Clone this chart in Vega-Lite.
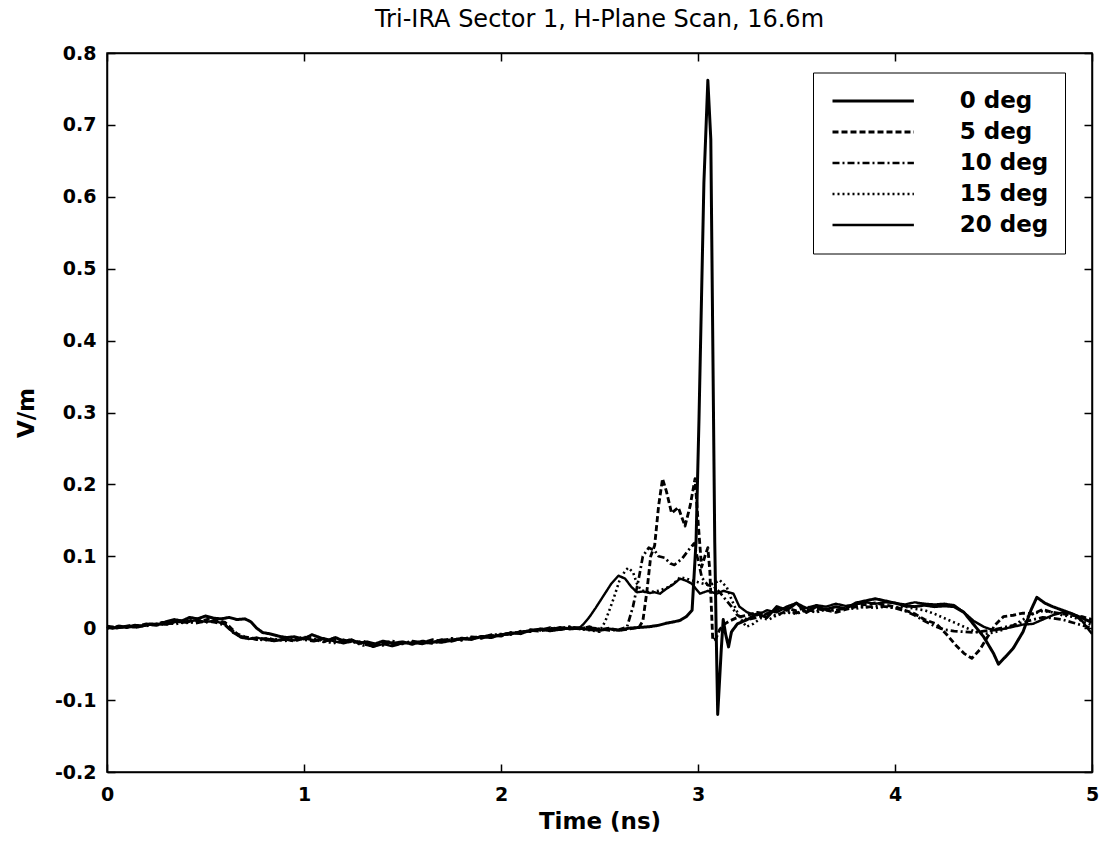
{
"$schema": "https://vega.github.io/schema/vega-lite/v6.json",
"width": 985, "height": 719,
"autosize": {"type": "none"},
"padding": {"left": 107, "top": 53, "right": 10, "bottom": 80},
"background": "white",
"title": {"text": "Tri-IRA Sector 1, H-Plane Scan, 16.6m", "font": "DejaVu Sans", "fontSize": 24, "fontWeight": "normal", "color": "black", "offset": 12, "anchor": "middle"},
"config": {"view": {"stroke": "black", "strokeWidth": 1.5}},
"datasets": {"d": [
{"s":"0 deg","t":0.00,"v":0.002},{"s":"0 deg","t":0.03,"v":0.000},{"s":"0 deg","t":0.06,"v":0.003},{"s":"0 deg","t":0.10,"v":0.001},{"s":"0 deg","t":0.14,"v":0.004},{"s":"0 deg","t":0.18,"v":0.003},{"s":"0 deg","t":0.22,"v":0.006},{"s":"0 deg","t":0.26,"v":0.005},{"s":"0 deg","t":0.30,"v":0.009},{"s":"0 deg","t":0.34,"v":0.012},{"s":"0 deg","t":0.38,"v":0.010},{"s":"0 deg","t":0.42,"v":0.015},{"s":"0 deg","t":0.46,"v":0.013},{"s":"0 deg","t":0.50,"v":0.017},{"s":"0 deg","t":0.54,"v":0.014},{"s":"0 deg","t":0.58,"v":0.013},{"s":"0 deg","t":0.62,"v":0.015},{"s":"0 deg","t":0.66,"v":0.012},{"s":"0 deg","t":0.70,"v":0.013},{"s":"0 deg","t":0.73,"v":0.009},{"s":"0 deg","t":0.76,"v":0.000},{"s":"0 deg","t":0.79,"v":-0.006},{"s":"0 deg","t":0.83,"v":-0.008},{"s":"0 deg","t":0.87,"v":-0.011},{"s":"0 deg","t":0.91,"v":-0.013},{"s":"0 deg","t":0.95,"v":-0.012},{"s":"0 deg","t":1.00,"v":-0.015},{"s":"0 deg","t":1.04,"v":-0.009},{"s":"0 deg","t":1.08,"v":-0.013},{"s":"0 deg","t":1.12,"v":-0.017},{"s":"0 deg","t":1.16,"v":-0.013},{"s":"0 deg","t":1.20,"v":-0.018},{"s":"0 deg","t":1.24,"v":-0.016},{"s":"0 deg","t":1.28,"v":-0.021},{"s":"0 deg","t":1.32,"v":-0.019},{"s":"0 deg","t":1.36,"v":-0.022},{"s":"0 deg","t":1.40,"v":-0.018},{"s":"0 deg","t":1.45,"v":-0.021},{"s":"0 deg","t":1.50,"v":-0.019},{"s":"0 deg","t":1.55,"v":-0.022},{"s":"0 deg","t":1.60,"v":-0.018},{"s":"0 deg","t":1.65,"v":-0.020},{"s":"0 deg","t":1.70,"v":-0.016},{"s":"0 deg","t":1.75,"v":-0.018},{"s":"0 deg","t":1.80,"v":-0.014},{"s":"0 deg","t":1.85,"v":-0.015},{"s":"0 deg","t":1.90,"v":-0.012},{"s":"0 deg","t":1.95,"v":-0.013},{"s":"0 deg","t":2.00,"v":-0.009},{"s":"0 deg","t":2.05,"v":-0.008},{"s":"0 deg","t":2.10,"v":-0.005},{"s":"0 deg","t":2.15,"v":-0.004},{"s":"0 deg","t":2.20,"v":-0.001},{"s":"0 deg","t":2.25,"v":-0.002},{"s":"0 deg","t":2.30,"v":0.001},{"s":"0 deg","t":2.35,"v":-0.001},{"s":"0 deg","t":2.40,"v":0.000},{"s":"0 deg","t":2.45,"v":-0.002},{"s":"0 deg","t":2.50,"v":-0.003},{"s":"0 deg","t":2.55,"v":-0.001},{"s":"0 deg","t":2.60,"v":-0.003},{"s":"0 deg","t":2.65,"v":0.000},{"s":"0 deg","t":2.70,"v":0.001},{"s":"0 deg","t":2.75,"v":0.002},{"s":"0 deg","t":2.80,"v":0.004},{"s":"0 deg","t":2.84,"v":0.007},{"s":"0 deg","t":2.88,"v":0.009},{"s":"0 deg","t":2.91,"v":0.011},{"s":"0 deg","t":2.94,"v":0.016},{"s":"0 deg","t":2.97,"v":0.025},{"s":"0 deg","t":2.99,"v":0.12},{"s":"0 deg","t":3.005,"v":0.29},{"s":"0 deg","t":3.03,"v":0.62},{"s":"0 deg","t":3.05,"v":0.762},{"s":"0 deg","t":3.065,"v":0.68},{"s":"0 deg","t":3.075,"v":0.40},{"s":"0 deg","t":3.085,"v":0.12},{"s":"0 deg","t":3.092,"v":0.0},{"s":"0 deg","t":3.10,"v":-0.12},{"s":"0 deg","t":3.11,"v":-0.07},{"s":"0 deg","t":3.118,"v":-0.03},{"s":"0 deg","t":3.128,"v":0.012},{"s":"0 deg","t":3.14,"v":-0.008},{"s":"0 deg","t":3.155,"v":-0.026},{"s":"0 deg","t":3.17,"v":-0.005},{"s":"0 deg","t":3.20,"v":0.006},{"s":"0 deg","t":3.25,"v":0.012},{"s":"0 deg","t":3.30,"v":0.020},{"s":"0 deg","t":3.35,"v":0.015},{"s":"0 deg","t":3.40,"v":0.030},{"s":"0 deg","t":3.45,"v":0.025},{"s":"0 deg","t":3.50,"v":0.035},{"s":"0 deg","t":3.55,"v":0.022},{"s":"0 deg","t":3.60,"v":0.030},{"s":"0 deg","t":3.65,"v":0.026},{"s":"0 deg","t":3.70,"v":0.030},{"s":"0 deg","t":3.75,"v":0.027},{"s":"0 deg","t":3.80,"v":0.035},{"s":"0 deg","t":3.85,"v":0.038},{"s":"0 deg","t":3.90,"v":0.041},{"s":"0 deg","t":3.95,"v":0.038},{"s":"0 deg","t":4.00,"v":0.035},{"s":"0 deg","t":4.05,"v":0.031},{"s":"0 deg","t":4.10,"v":0.030},{"s":"0 deg","t":4.15,"v":0.032},{"s":"0 deg","t":4.20,"v":0.030},{"s":"0 deg","t":4.25,"v":0.031},{"s":"0 deg","t":4.30,"v":0.030},{"s":"0 deg","t":4.35,"v":0.022},{"s":"0 deg","t":4.40,"v":0.005},{"s":"0 deg","t":4.45,"v":-0.012},{"s":"0 deg","t":4.50,"v":-0.035},{"s":"0 deg","t":4.525,"v":-0.050},{"s":"0 deg","t":4.56,"v":-0.040},{"s":"0 deg","t":4.60,"v":-0.028},{"s":"0 deg","t":4.65,"v":-0.005},{"s":"0 deg","t":4.69,"v":0.025},{"s":"0 deg","t":4.72,"v":0.043},{"s":"0 deg","t":4.76,"v":0.035},{"s":"0 deg","t":4.80,"v":0.030},{"s":"0 deg","t":4.85,"v":0.025},{"s":"0 deg","t":4.90,"v":0.020},{"s":"0 deg","t":4.95,"v":0.014},{"s":"0 deg","t":5.00,"v":0.008},

{"s":"5 deg","t":0.00,"v":0.000},{"s":"5 deg","t":0.04,"v":0.002},{"s":"5 deg","t":0.08,"v":0.001},{"s":"5 deg","t":0.12,"v":0.004},{"s":"5 deg","t":0.16,"v":0.003},{"s":"5 deg","t":0.20,"v":0.006},{"s":"5 deg","t":0.24,"v":0.005},{"s":"5 deg","t":0.28,"v":0.008},{"s":"5 deg","t":0.32,"v":0.007},{"s":"5 deg","t":0.36,"v":0.011},{"s":"5 deg","t":0.40,"v":0.009},{"s":"5 deg","t":0.44,"v":0.012},{"s":"5 deg","t":0.48,"v":0.010},{"s":"5 deg","t":0.52,"v":0.013},{"s":"5 deg","t":0.56,"v":0.011},{"s":"5 deg","t":0.60,"v":0.008},{"s":"5 deg","t":0.63,"v":0.000},{"s":"5 deg","t":0.66,"v":-0.008},{"s":"5 deg","t":0.70,"v":-0.012},{"s":"5 deg","t":0.74,"v":-0.014},{"s":"5 deg","t":0.78,"v":-0.015},{"s":"5 deg","t":0.82,"v":-0.014},{"s":"5 deg","t":0.86,"v":-0.017},{"s":"5 deg","t":0.90,"v":-0.015},{"s":"5 deg","t":0.95,"v":-0.018},{"s":"5 deg","t":1.00,"v":-0.014},{"s":"5 deg","t":1.05,"v":-0.016},{"s":"5 deg","t":1.10,"v":-0.019},{"s":"5 deg","t":1.15,"v":-0.014},{"s":"5 deg","t":1.20,"v":-0.020},{"s":"5 deg","t":1.25,"v":-0.017},{"s":"5 deg","t":1.30,"v":-0.022},{"s":"5 deg","t":1.35,"v":-0.025},{"s":"5 deg","t":1.40,"v":-0.021},{"s":"5 deg","t":1.45,"v":-0.023},{"s":"5 deg","t":1.50,"v":-0.020},{"s":"5 deg","t":1.55,"v":-0.022},{"s":"5 deg","t":1.60,"v":-0.019},{"s":"5 deg","t":1.65,"v":-0.021},{"s":"5 deg","t":1.70,"v":-0.017},{"s":"5 deg","t":1.75,"v":-0.016},{"s":"5 deg","t":1.80,"v":-0.015},{"s":"5 deg","t":1.85,"v":-0.013},{"s":"5 deg","t":1.90,"v":-0.014},{"s":"5 deg","t":1.95,"v":-0.010},{"s":"5 deg","t":2.00,"v":-0.011},{"s":"5 deg","t":2.05,"v":-0.007},{"s":"5 deg","t":2.10,"v":-0.006},{"s":"5 deg","t":2.15,"v":-0.003},{"s":"5 deg","t":2.20,"v":-0.004},{"s":"5 deg","t":2.25,"v":0.000},{"s":"5 deg","t":2.30,"v":-0.002},{"s":"5 deg","t":2.35,"v":0.001},{"s":"5 deg","t":2.40,"v":-0.001},{"s":"5 deg","t":2.45,"v":0.002},{"s":"5 deg","t":2.50,"v":-0.002},{"s":"5 deg","t":2.55,"v":0.000},{"s":"5 deg","t":2.60,"v":-0.003},{"s":"5 deg","t":2.65,"v":-0.001},{"s":"5 deg","t":2.70,"v":0.001},{"s":"5 deg","t":2.72,"v":0.010},{"s":"5 deg","t":2.74,"v":0.050},{"s":"5 deg","t":2.76,"v":0.100},{"s":"5 deg","t":2.78,"v":0.115},{"s":"5 deg","t":2.80,"v":0.170},{"s":"5 deg","t":2.82,"v":0.208},{"s":"5 deg","t":2.84,"v":0.190},{"s":"5 deg","t":2.866,"v":0.160},{"s":"5 deg","t":2.90,"v":0.168},{"s":"5 deg","t":2.934,"v":0.142},{"s":"5 deg","t":2.96,"v":0.170},{"s":"5 deg","t":2.985,"v":0.208},{"s":"5 deg","t":3.00,"v":0.150},{"s":"5 deg","t":3.018,"v":0.085},{"s":"5 deg","t":3.035,"v":0.100},{"s":"5 deg","t":3.05,"v":0.112},{"s":"5 deg","t":3.06,"v":0.080},{"s":"5 deg","t":3.075,"v":-0.017},{"s":"5 deg","t":3.09,"v":-0.015},{"s":"5 deg","t":3.11,"v":-0.002},{"s":"5 deg","t":3.13,"v":0.005},{"s":"5 deg","t":3.16,"v":0.010},{"s":"5 deg","t":3.20,"v":0.015},{"s":"5 deg","t":3.25,"v":0.018},{"s":"5 deg","t":3.30,"v":0.022},{"s":"5 deg","t":3.35,"v":0.020},{"s":"5 deg","t":3.40,"v":0.026},{"s":"5 deg","t":3.45,"v":0.028},{"s":"5 deg","t":3.50,"v":0.024},{"s":"5 deg","t":3.55,"v":0.030},{"s":"5 deg","t":3.60,"v":0.027},{"s":"5 deg","t":3.65,"v":0.025},{"s":"5 deg","t":3.70,"v":0.022},{"s":"5 deg","t":3.75,"v":0.026},{"s":"5 deg","t":3.80,"v":0.030},{"s":"5 deg","t":3.85,"v":0.033},{"s":"5 deg","t":3.90,"v":0.035},{"s":"5 deg","t":3.95,"v":0.032},{"s":"5 deg","t":4.00,"v":0.030},{"s":"5 deg","t":4.05,"v":0.025},{"s":"5 deg","t":4.10,"v":0.020},{"s":"5 deg","t":4.15,"v":0.012},{"s":"5 deg","t":4.21,"v":0.006},{"s":"5 deg","t":4.26,"v":-0.008},{"s":"5 deg","t":4.31,"v":-0.024},{"s":"5 deg","t":4.35,"v":-0.035},{"s":"5 deg","t":4.39,"v":-0.042},{"s":"5 deg","t":4.43,"v":-0.030},{"s":"5 deg","t":4.47,"v":-0.012},{"s":"5 deg","t":4.51,"v":0.005},{"s":"5 deg","t":4.55,"v":0.016},{"s":"5 deg","t":4.60,"v":0.018},{"s":"5 deg","t":4.65,"v":0.021},{"s":"5 deg","t":4.70,"v":0.020},{"s":"5 deg","t":4.75,"v":0.026},{"s":"5 deg","t":4.80,"v":0.022},{"s":"5 deg","t":4.85,"v":0.020},{"s":"5 deg","t":4.90,"v":0.018},{"s":"5 deg","t":4.95,"v":0.016},{"s":"5 deg","t":5.00,"v":0.012},

{"s":"10 deg","t":0.00,"v":0.003},{"s":"10 deg","t":0.05,"v":0.001},{"s":"10 deg","t":0.10,"v":0.003},{"s":"10 deg","t":0.15,"v":0.002},{"s":"10 deg","t":0.20,"v":0.005},{"s":"10 deg","t":0.25,"v":0.004},{"s":"10 deg","t":0.30,"v":0.007},{"s":"10 deg","t":0.35,"v":0.006},{"s":"10 deg","t":0.40,"v":0.009},{"s":"10 deg","t":0.45,"v":0.007},{"s":"10 deg","t":0.50,"v":0.010},{"s":"10 deg","t":0.55,"v":0.008},{"s":"10 deg","t":0.60,"v":0.004},{"s":"10 deg","t":0.64,"v":-0.006},{"s":"10 deg","t":0.68,"v":-0.012},{"s":"10 deg","t":0.72,"v":-0.013},{"s":"10 deg","t":0.76,"v":-0.016},{"s":"10 deg","t":0.80,"v":-0.014},{"s":"10 deg","t":0.85,"v":-0.017},{"s":"10 deg","t":0.90,"v":-0.016},{"s":"10 deg","t":0.95,"v":-0.013},{"s":"10 deg","t":1.00,"v":-0.016},{"s":"10 deg","t":1.05,"v":-0.018},{"s":"10 deg","t":1.10,"v":-0.015},{"s":"10 deg","t":1.15,"v":-0.019},{"s":"10 deg","t":1.20,"v":-0.016},{"s":"10 deg","t":1.25,"v":-0.020},{"s":"10 deg","t":1.30,"v":-0.018},{"s":"10 deg","t":1.35,"v":-0.023},{"s":"10 deg","t":1.40,"v":-0.020},{"s":"10 deg","t":1.45,"v":-0.018},{"s":"10 deg","t":1.50,"v":-0.021},{"s":"10 deg","t":1.55,"v":-0.018},{"s":"10 deg","t":1.60,"v":-0.020},{"s":"10 deg","t":1.65,"v":-0.016},{"s":"10 deg","t":1.70,"v":-0.018},{"s":"10 deg","t":1.75,"v":-0.014},{"s":"10 deg","t":1.80,"v":-0.016},{"s":"10 deg","t":1.85,"v":-0.012},{"s":"10 deg","t":1.90,"v":-0.013},{"s":"10 deg","t":1.95,"v":-0.009},{"s":"10 deg","t":2.00,"v":-0.010},{"s":"10 deg","t":2.05,"v":-0.006},{"s":"10 deg","t":2.10,"v":-0.007},{"s":"10 deg","t":2.15,"v":-0.002},{"s":"10 deg","t":2.20,"v":-0.003},{"s":"10 deg","t":2.25,"v":0.001},{"s":"10 deg","t":2.30,"v":-0.001},{"s":"10 deg","t":2.35,"v":0.002},{"s":"10 deg","t":2.40,"v":0.000},{"s":"10 deg","t":2.45,"v":0.001},{"s":"10 deg","t":2.50,"v":-0.001},{"s":"10 deg","t":2.55,"v":-0.003},{"s":"10 deg","t":2.60,"v":-0.002},{"s":"10 deg","t":2.64,"v":0.002},{"s":"10 deg","t":2.67,"v":0.030},{"s":"10 deg","t":2.70,"v":0.070},{"s":"10 deg","t":2.72,"v":0.100},{"s":"10 deg","t":2.75,"v":0.112},{"s":"10 deg","t":2.78,"v":0.108},{"s":"10 deg","t":2.80,"v":0.100},{"s":"10 deg","t":2.83,"v":0.098},{"s":"10 deg","t":2.86,"v":0.090},{"s":"10 deg","t":2.88,"v":0.088},{"s":"10 deg","t":2.92,"v":0.097},{"s":"10 deg","t":2.95,"v":0.108},{"s":"10 deg","t":2.98,"v":0.118},{"s":"10 deg","t":3.00,"v":0.095},{"s":"10 deg","t":3.02,"v":0.070},{"s":"10 deg","t":3.05,"v":0.060},{"s":"10 deg","t":3.08,"v":0.058},{"s":"10 deg","t":3.11,"v":0.050},{"s":"10 deg","t":3.14,"v":0.040},{"s":"10 deg","t":3.17,"v":0.030},{"s":"10 deg","t":3.20,"v":0.018},{"s":"10 deg","t":3.25,"v":0.012},{"s":"10 deg","t":3.30,"v":0.015},{"s":"10 deg","t":3.35,"v":0.020},{"s":"10 deg","t":3.40,"v":0.018},{"s":"10 deg","t":3.45,"v":0.024},{"s":"10 deg","t":3.50,"v":0.021},{"s":"10 deg","t":3.55,"v":0.026},{"s":"10 deg","t":3.60,"v":0.023},{"s":"10 deg","t":3.65,"v":0.027},{"s":"10 deg","t":3.70,"v":0.025},{"s":"10 deg","t":3.75,"v":0.028},{"s":"10 deg","t":3.80,"v":0.030},{"s":"10 deg","t":3.85,"v":0.029},{"s":"10 deg","t":3.90,"v":0.031},{"s":"10 deg","t":3.95,"v":0.030},{"s":"10 deg","t":4.00,"v":0.028},{"s":"10 deg","t":4.05,"v":0.024},{"s":"10 deg","t":4.10,"v":0.018},{"s":"10 deg","t":4.15,"v":0.010},{"s":"10 deg","t":4.20,"v":0.003},{"s":"10 deg","t":4.25,"v":-0.002},{"s":"10 deg","t":4.30,"v":-0.004},{"s":"10 deg","t":4.35,"v":-0.005},{"s":"10 deg","t":4.40,"v":-0.006},{"s":"10 deg","t":4.45,"v":-0.004},{"s":"10 deg","t":4.50,"v":-0.002},{"s":"10 deg","t":4.55,"v":0.001},{"s":"10 deg","t":4.60,"v":0.004},{"s":"10 deg","t":4.65,"v":0.008},{"s":"10 deg","t":4.70,"v":0.012},{"s":"10 deg","t":4.75,"v":0.015},{"s":"10 deg","t":4.80,"v":0.014},{"s":"10 deg","t":4.85,"v":0.012},{"s":"10 deg","t":4.90,"v":0.008},{"s":"10 deg","t":4.95,"v":0.004},{"s":"10 deg","t":5.00,"v":0.000},

{"s":"15 deg","t":0.00,"v":0.000},{"s":"15 deg","t":0.05,"v":0.002},{"s":"15 deg","t":0.10,"v":0.001},{"s":"15 deg","t":0.15,"v":0.004},{"s":"15 deg","t":0.20,"v":0.003},{"s":"15 deg","t":0.25,"v":0.006},{"s":"15 deg","t":0.30,"v":0.005},{"s":"15 deg","t":0.35,"v":0.008},{"s":"15 deg","t":0.40,"v":0.007},{"s":"15 deg","t":0.45,"v":0.010},{"s":"15 deg","t":0.50,"v":0.008},{"s":"15 deg","t":0.55,"v":0.011},{"s":"15 deg","t":0.60,"v":0.006},{"s":"15 deg","t":0.64,"v":-0.004},{"s":"15 deg","t":0.68,"v":-0.011},{"s":"15 deg","t":0.72,"v":-0.014},{"s":"15 deg","t":0.76,"v":-0.015},{"s":"15 deg","t":0.80,"v":-0.017},{"s":"15 deg","t":0.85,"v":-0.015},{"s":"15 deg","t":0.90,"v":-0.018},{"s":"15 deg","t":0.95,"v":-0.016},{"s":"15 deg","t":1.00,"v":-0.012},{"s":"15 deg","t":1.05,"v":-0.015},{"s":"15 deg","t":1.10,"v":-0.018},{"s":"15 deg","t":1.15,"v":-0.021},{"s":"15 deg","t":1.20,"v":-0.017},{"s":"15 deg","t":1.25,"v":-0.019},{"s":"15 deg","t":1.30,"v":-0.024},{"s":"15 deg","t":1.35,"v":-0.021},{"s":"15 deg","t":1.40,"v":-0.024},{"s":"15 deg","t":1.45,"v":-0.020},{"s":"15 deg","t":1.50,"v":-0.022},{"s":"15 deg","t":1.55,"v":-0.019},{"s":"15 deg","t":1.60,"v":-0.021},{"s":"15 deg","t":1.65,"v":-0.018},{"s":"15 deg","t":1.70,"v":-0.019},{"s":"15 deg","t":1.75,"v":-0.015},{"s":"15 deg","t":1.80,"v":-0.017},{"s":"15 deg","t":1.85,"v":-0.013},{"s":"15 deg","t":1.90,"v":-0.012},{"s":"15 deg","t":1.95,"v":-0.010},{"s":"15 deg","t":2.00,"v":-0.008},{"s":"15 deg","t":2.05,"v":-0.009},{"s":"15 deg","t":2.10,"v":-0.004},{"s":"15 deg","t":2.15,"v":-0.005},{"s":"15 deg","t":2.20,"v":-0.001},{"s":"15 deg","t":2.25,"v":-0.003},{"s":"15 deg","t":2.30,"v":0.000},{"s":"15 deg","t":2.35,"v":0.002},{"s":"15 deg","t":2.40,"v":-0.001},{"s":"15 deg","t":2.45,"v":-0.003},{"s":"15 deg","t":2.50,"v":-0.005},{"s":"15 deg","t":2.53,"v":0.010},{"s":"15 deg","t":2.57,"v":0.040},{"s":"15 deg","t":2.60,"v":0.065},{"s":"15 deg","t":2.63,"v":0.080},{"s":"15 deg","t":2.646,"v":0.084},{"s":"15 deg","t":2.67,"v":0.078},{"s":"15 deg","t":2.69,"v":0.062},{"s":"15 deg","t":2.71,"v":0.053},{"s":"15 deg","t":2.75,"v":0.050},{"s":"15 deg","t":2.80,"v":0.052},{"s":"15 deg","t":2.85,"v":0.057},{"s":"15 deg","t":2.88,"v":0.063},{"s":"15 deg","t":2.91,"v":0.071},{"s":"15 deg","t":2.95,"v":0.068},{"s":"15 deg","t":3.00,"v":0.064},{"s":"15 deg","t":3.05,"v":0.060},{"s":"15 deg","t":3.08,"v":0.062},{"s":"15 deg","t":3.11,"v":0.067},{"s":"15 deg","t":3.146,"v":0.057},{"s":"15 deg","t":3.17,"v":0.040},{"s":"15 deg","t":3.21,"v":0.016},{"s":"15 deg","t":3.245,"v":0.002},{"s":"15 deg","t":3.28,"v":0.006},{"s":"15 deg","t":3.32,"v":0.014},{"s":"15 deg","t":3.36,"v":0.012},{"s":"15 deg","t":3.40,"v":0.018},{"s":"15 deg","t":3.45,"v":0.022},{"s":"15 deg","t":3.50,"v":0.020},{"s":"15 deg","t":3.55,"v":0.025},{"s":"15 deg","t":3.60,"v":0.022},{"s":"15 deg","t":3.65,"v":0.026},{"s":"15 deg","t":3.70,"v":0.024},{"s":"15 deg","t":3.75,"v":0.028},{"s":"15 deg","t":3.80,"v":0.027},{"s":"15 deg","t":3.85,"v":0.030},{"s":"15 deg","t":3.90,"v":0.028},{"s":"15 deg","t":3.95,"v":0.030},{"s":"15 deg","t":4.00,"v":0.028},{"s":"15 deg","t":4.05,"v":0.030},{"s":"15 deg","t":4.10,"v":0.027},{"s":"15 deg","t":4.15,"v":0.025},{"s":"15 deg","t":4.20,"v":0.020},{"s":"15 deg","t":4.25,"v":0.014},{"s":"15 deg","t":4.30,"v":0.008},{"s":"15 deg","t":4.35,"v":0.002},{"s":"15 deg","t":4.40,"v":-0.004},{"s":"15 deg","t":4.45,"v":-0.008},{"s":"15 deg","t":4.50,"v":-0.006},{"s":"15 deg","t":4.55,"v":-0.002},{"s":"15 deg","t":4.60,"v":0.004},{"s":"15 deg","t":4.65,"v":0.012},{"s":"15 deg","t":4.70,"v":0.020},{"s":"15 deg","t":4.75,"v":0.024},{"s":"15 deg","t":4.80,"v":0.022},{"s":"15 deg","t":4.85,"v":0.018},{"s":"15 deg","t":4.90,"v":0.016},{"s":"15 deg","t":4.95,"v":0.010},{"s":"15 deg","t":5.00,"v":0.004},

{"s":"20 deg","t":0.00,"v":0.002},{"s":"20 deg","t":0.05,"v":0.000},{"s":"20 deg","t":0.10,"v":0.002},{"s":"20 deg","t":0.15,"v":0.001},{"s":"20 deg","t":0.20,"v":0.004},{"s":"20 deg","t":0.25,"v":0.006},{"s":"20 deg","t":0.30,"v":0.005},{"s":"20 deg","t":0.35,"v":0.009},{"s":"20 deg","t":0.40,"v":0.008},{"s":"20 deg","t":0.45,"v":0.011},{"s":"20 deg","t":0.50,"v":0.009},{"s":"20 deg","t":0.55,"v":0.010},{"s":"20 deg","t":0.60,"v":0.005},{"s":"20 deg","t":0.64,"v":-0.006},{"s":"20 deg","t":0.68,"v":-0.013},{"s":"20 deg","t":0.72,"v":-0.015},{"s":"20 deg","t":0.76,"v":-0.013},{"s":"20 deg","t":0.80,"v":-0.016},{"s":"20 deg","t":0.85,"v":-0.018},{"s":"20 deg","t":0.90,"v":-0.015},{"s":"20 deg","t":0.95,"v":-0.017},{"s":"20 deg","t":1.00,"v":-0.013},{"s":"20 deg","t":1.05,"v":-0.017},{"s":"20 deg","t":1.10,"v":-0.014},{"s":"20 deg","t":1.15,"v":-0.018},{"s":"20 deg","t":1.20,"v":-0.021},{"s":"20 deg","t":1.25,"v":-0.018},{"s":"20 deg","t":1.30,"v":-0.020},{"s":"20 deg","t":1.35,"v":-0.026},{"s":"20 deg","t":1.40,"v":-0.022},{"s":"20 deg","t":1.45,"v":-0.025},{"s":"20 deg","t":1.50,"v":-0.021},{"s":"20 deg","t":1.55,"v":-0.020},{"s":"20 deg","t":1.60,"v":-0.022},{"s":"20 deg","t":1.65,"v":-0.019},{"s":"20 deg","t":1.70,"v":-0.020},{"s":"20 deg","t":1.75,"v":-0.017},{"s":"20 deg","t":1.80,"v":-0.015},{"s":"20 deg","t":1.85,"v":-0.016},{"s":"20 deg","t":1.90,"v":-0.011},{"s":"20 deg","t":1.95,"v":-0.012},{"s":"20 deg","t":2.00,"v":-0.009},{"s":"20 deg","t":2.05,"v":-0.006},{"s":"20 deg","t":2.10,"v":-0.008},{"s":"20 deg","t":2.15,"v":-0.003},{"s":"20 deg","t":2.20,"v":-0.002},{"s":"20 deg","t":2.25,"v":-0.004},{"s":"20 deg","t":2.30,"v":-0.002},{"s":"20 deg","t":2.35,"v":0.000},{"s":"20 deg","t":2.40,"v":0.001},{"s":"20 deg","t":2.42,"v":0.006},{"s":"20 deg","t":2.45,"v":0.016},{"s":"20 deg","t":2.48,"v":0.028},{"s":"20 deg","t":2.52,"v":0.045},{"s":"20 deg","t":2.56,"v":0.062},{"s":"20 deg","t":2.596,"v":0.073},{"s":"20 deg","t":2.63,"v":0.069},{"s":"20 deg","t":2.66,"v":0.058},{"s":"20 deg","t":2.69,"v":0.050},{"s":"20 deg","t":2.72,"v":0.051},{"s":"20 deg","t":2.756,"v":0.049},{"s":"20 deg","t":2.78,"v":0.050},{"s":"20 deg","t":2.807,"v":0.048},{"s":"20 deg","t":2.84,"v":0.055},{"s":"20 deg","t":2.87,"v":0.060},{"s":"20 deg","t":2.909,"v":0.069},{"s":"20 deg","t":2.94,"v":0.066},{"s":"20 deg","t":2.968,"v":0.062},{"s":"20 deg","t":3.01,"v":0.048},{"s":"20 deg","t":3.05,"v":0.052},{"s":"20 deg","t":3.095,"v":0.048},{"s":"20 deg","t":3.13,"v":0.052},{"s":"20 deg","t":3.18,"v":0.048},{"s":"20 deg","t":3.21,"v":0.030},{"s":"20 deg","t":3.25,"v":0.022},{"s":"20 deg","t":3.30,"v":0.018},{"s":"20 deg","t":3.35,"v":0.025},{"s":"20 deg","t":3.40,"v":0.022},{"s":"20 deg","t":3.45,"v":0.030},{"s":"20 deg","t":3.50,"v":0.035},{"s":"20 deg","t":3.55,"v":0.028},{"s":"20 deg","t":3.60,"v":0.032},{"s":"20 deg","t":3.65,"v":0.030},{"s":"20 deg","t":3.70,"v":0.034},{"s":"20 deg","t":3.75,"v":0.031},{"s":"20 deg","t":3.80,"v":0.033},{"s":"20 deg","t":3.85,"v":0.036},{"s":"20 deg","t":3.90,"v":0.034},{"s":"20 deg","t":3.95,"v":0.036},{"s":"20 deg","t":4.00,"v":0.035},{"s":"20 deg","t":4.05,"v":0.033},{"s":"20 deg","t":4.10,"v":0.036},{"s":"20 deg","t":4.15,"v":0.034},{"s":"20 deg","t":4.20,"v":0.033},{"s":"20 deg","t":4.25,"v":0.034},{"s":"20 deg","t":4.30,"v":0.032},{"s":"20 deg","t":4.35,"v":0.022},{"s":"20 deg","t":4.40,"v":0.010},{"s":"20 deg","t":4.45,"v":0.002},{"s":"20 deg","t":4.50,"v":-0.003},{"s":"20 deg","t":4.55,"v":-0.001},{"s":"20 deg","t":4.60,"v":0.002},{"s":"20 deg","t":4.65,"v":0.005},{"s":"20 deg","t":4.70,"v":0.006},{"s":"20 deg","t":4.75,"v":0.012},{"s":"20 deg","t":4.80,"v":0.018},{"s":"20 deg","t":4.85,"v":0.022},{"s":"20 deg","t":4.90,"v":0.020},{"s":"20 deg","t":4.95,"v":0.010},{"s":"20 deg","t":5.00,"v":-0.008}
]},
"data": {"name": "d"},
"layer": [
{
"mark": {"type": "line", "color": "black", "strokeCap": "butt", "strokeJoin": "round"},
"encoding": {
"x": {"field": "t", "type": "quantitative", "scale": {"domain": [0, 5], "nice": false, "zero": false},
  "axis": {"orient": "bottom", "title": "Time (ns)", "values": [0,1,2,3,4,5], "format": "d", "grid": false, "tickSize": -8, "tickColor": "black", "tickWidth": 1.5, "domainColor": "black", "domainWidth": 1.5, "labelPadding": 21, "labelFont": "DejaVu Sans", "labelFontSize": 19, "labelFontWeight": "bold", "labelColor": "black", "labelFlush": false, "titleFont": "DejaVu Sans", "titleFontSize": 23, "titleFontWeight": "bold", "titleColor": "black", "titlePadding": 6}},
"y": {"field": "v", "type": "quantitative", "scale": {"domain": [-0.2, 0.8], "nice": false, "zero": false},
  "axis": {"orient": "left", "title": "V/m", "values": [-0.2,-0.1,0,0.1,0.2,0.3,0.4,0.5,0.6,0.7,0.8], "labelExpr": "abs(datum.value) < 1e-9 ? '0' : (datum.value < 0 ? '-' + format(-datum.value, '.1f') : format(datum.value, '.1f'))", "grid": false, "tickSize": -8, "tickColor": "black", "tickWidth": 1.5, "domainColor": "black", "domainWidth": 1.5, "labelPadding": 19, "labelFont": "DejaVu Sans", "labelFontSize": 19, "labelFontWeight": "bold", "labelColor": "black", "labelFlush": false, "titleFont": "DejaVu Sans", "titleFontSize": 23, "titleFontWeight": "bold", "titleColor": "black", "titlePadding": 16}},
"detail": {"field": "s"},
"strokeDash": {"field": "s", "type": "nominal",
  "scale": {"domain": ["0 deg","5 deg","10 deg","15 deg","20 deg"], "range": [[1,0],[6,3],[7,3,2,3],[2,3],[1,0]]},
  "legend": {"orient": "none", "legendX": 706, "legendY": 19.5, "title": null, "symbolType": "M-3.7,0H3.7", "symbolSize": 484, "symbolStrokeColor": "black", "symbolStrokeWidth": 2, "labelFont": "DejaVu Sans", "labelFontSize": 23, "labelFontWeight": "bold", "labelColor": "black", "labelOffset": 74, "symbolOffset": 31.7, "padding": 16, "strokeColor": "black", "fillColor": "white", "rowPadding": 6}},
"strokeWidth": {"field": "s", "type": "nominal",
  "scale": {"domain": ["0 deg","5 deg","10 deg","15 deg","20 deg"], "range": [3, 2.4, 2.4, 2.4, 2]},
  "legend": {"orient": "none", "legendX": 706, "legendY": 19.5, "title": null, "symbolType": "M-3.7,0H3.7", "symbolSize": 484, "symbolStrokeColor": "black", "labelFont": "DejaVu Sans", "labelFontSize": 23, "labelFontWeight": "bold", "labelColor": "black", "labelOffset": 74, "symbolOffset": 31.7, "padding": 16, "strokeColor": "black", "fillColor": "white", "rowPadding": 6}}
}
},
{
"mark": {"type": "line", "opacity": 0},
"encoding": {
"x": {"field": "t", "type": "quantitative", "axis": {"orient": "top", "title": null, "labels": false, "values": [0,1,2,3,4,5], "grid": false, "tickSize": -8, "tickColor": "black", "tickWidth": 1.5, "domainColor": "black", "domainWidth": 1.5}},
"y": {"field": "v", "type": "quantitative", "axis": {"orient": "right", "title": null, "labels": false, "values": [-0.2,-0.1,0,0.1,0.2,0.3,0.4,0.5,0.6,0.7,0.8], "grid": false, "tickSize": -8, "tickColor": "black", "tickWidth": 1.5, "domainColor": "black", "domainWidth": 1.5}},
"detail": {"field": "s"}
}
}
]
}
